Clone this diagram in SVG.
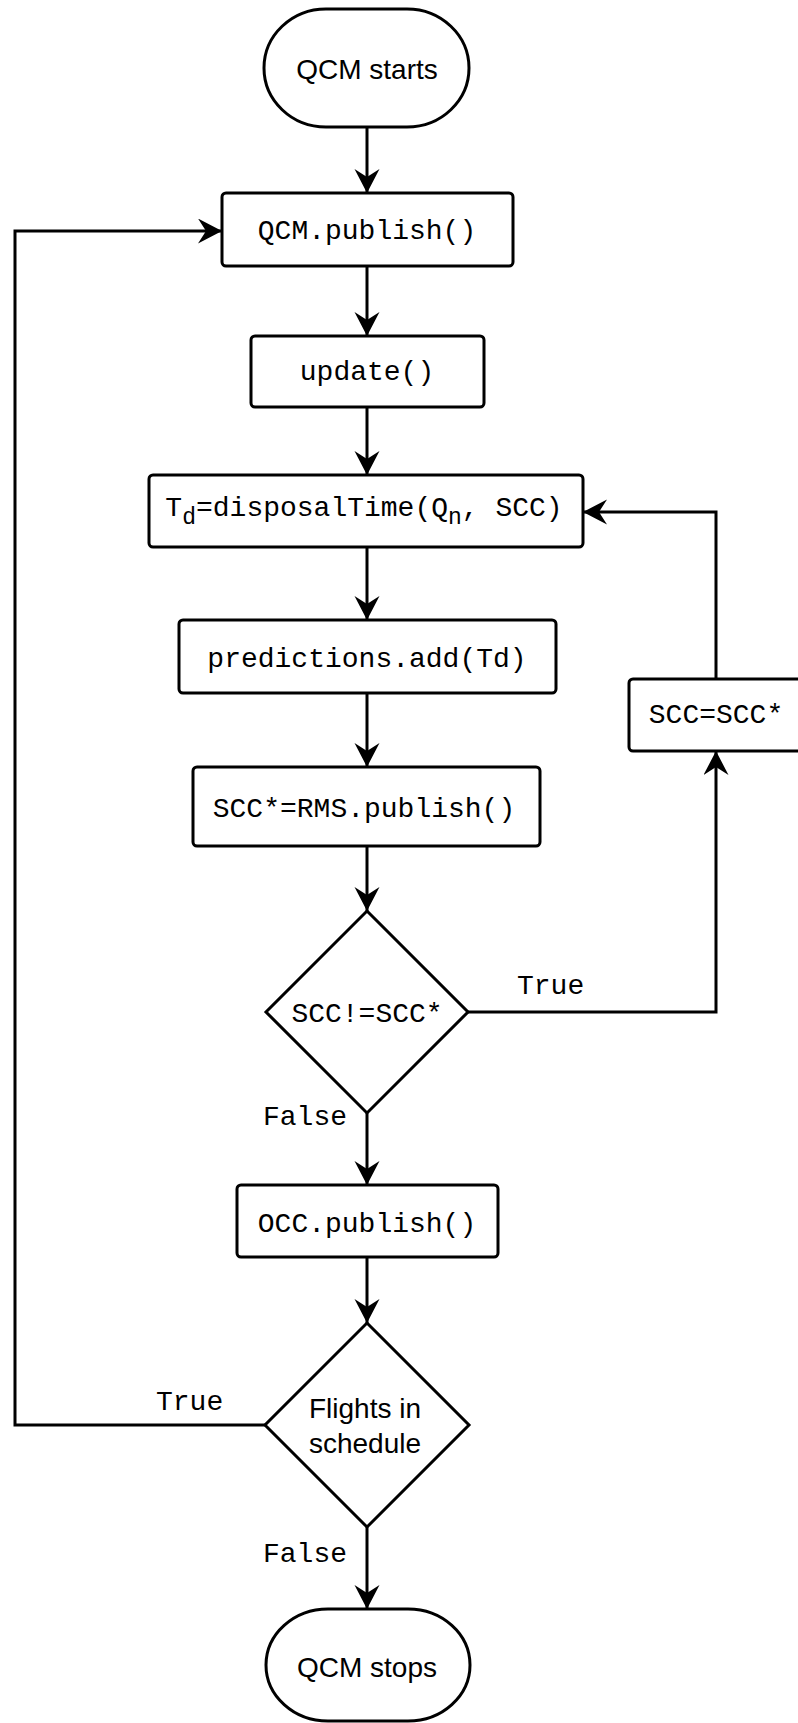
<svg xmlns="http://www.w3.org/2000/svg" width="798" height="1723" viewBox="0 0 798 1723">
  <style>
    .shape { fill: #ffffff; stroke: #000000; stroke-width: 3; }
    .edge { fill: none; stroke: #000000; stroke-width: 3; stroke-linejoin: miter; }
    .mono { font-family: "Liberation Mono", "Courier New", monospace; font-size: 28px; fill: #000000; }
    .sans { font-family: "Liberation Sans", Arial, Helvetica, sans-serif; font-size: 28px; fill: #000000; }
    .mid { text-anchor: middle; }
  </style>
  <defs>
    <marker id="arrow" markerUnits="userSpaceOnUse" markerWidth="26" markerHeight="26" refX="24" refY="12.5" orient="auto">
      <path d="M0,0 L24,12.5 L0,25 L8,12.5 Z" fill="#000000"/>
    </marker>
  </defs>

  <rect width="798" height="1723" fill="#ffffff"/>

  <!-- connectors -->
  <g id="connectors">
    <path class="edge" d="M367,127 L367,193" marker-end="url(#arrow)"/>
    <path class="edge" d="M367,266 L367,336" marker-end="url(#arrow)"/>
    <path class="edge" d="M367,407 L367,475" marker-end="url(#arrow)"/>
    <path class="edge" d="M367,547 L367,620" marker-end="url(#arrow)"/>
    <path class="edge" d="M367,693 L367,767" marker-end="url(#arrow)"/>
    <path class="edge" d="M367,846 L367,911" marker-end="url(#arrow)"/>
    <path class="edge" d="M367,1113 L367,1185" marker-end="url(#arrow)"/>
    <path class="edge" d="M468,1012 L716,1012 L716,751" marker-end="url(#arrow)"/>
    <path class="edge" d="M716,679 L716,512 L583,512" marker-end="url(#arrow)"/>
    <path class="edge" d="M367,1257 L367,1323" marker-end="url(#arrow)"/>
    <path class="edge" d="M266,1425 L15,1425 L15,231 L222,231" marker-end="url(#arrow)"/>
    <path class="edge" d="M367,1527 L367,1609" marker-end="url(#arrow)"/>
    <text class="mono" x="517" y="994">True</text>
    <text class="mono" x="263" y="1125">False</text>
    <text class="mono" x="156" y="1410">True</text>
    <text class="mono" x="263" y="1562">False</text>
  </g>

  <g id="start">
    <rect class="shape" x="264" y="9" width="205" height="118" rx="62" ry="59"/>
    <text class="sans mid" x="367" y="79">QCM starts</text>
  </g>

  <g id="qcm-publish">
    <rect class="shape" x="222" y="193" width="291" height="73" rx="4"/>
    <text class="mono mid" x="367" y="239">QCM.publish()</text>
  </g>

  <g id="update">
    <rect class="shape" x="251" y="336" width="233" height="71" rx="4"/>
    <text class="mono mid" x="367" y="380">update()</text>
  </g>

  <g id="disposal-time">
    <rect class="shape" x="149" y="475" width="434" height="72" rx="4"/>
    <text class="mono mid" x="364" y="516">T<tspan font-size="23" dy="8">d</tspan><tspan dy="-8">=disposalTime(Q</tspan><tspan font-size="23" dy="8">n</tspan><tspan dy="-8">, SCC)</tspan></text>
  </g>

  <g id="predictions-add">
    <rect class="shape" x="179" y="620" width="377" height="73" rx="4"/>
    <text class="mono mid" x="367" y="667">predictions.add(Td)</text>
  </g>

  <g id="rms-publish">
    <rect class="shape" x="193" y="767" width="347" height="79" rx="4"/>
    <text class="mono mid" x="364" y="817">SCC*=RMS.publish()</text>
  </g>

  <g id="scc-changed">
    <path class="shape" d="M367,911 L468,1012 L367,1113 L266,1012 Z"/>
    <text class="mono mid" x="367" y="1022">SCC!=SCC*</text>
  </g>

  <g id="scc-update">
    <rect class="shape" x="629" y="679" width="174" height="72" rx="4"/>
    <text class="mono mid" x="716" y="723">SCC=SCC*</text>
  </g>

  <g id="occ-publish">
    <rect class="shape" x="237" y="1185" width="261" height="72" rx="4"/>
    <text class="mono mid" x="367" y="1232">OCC.publish()</text>
  </g>

  <g id="flights-in-schedule">
    <path class="shape" d="M367,1323 L469,1425 L367,1527 L265,1425 Z"/>
    <text class="sans mid" x="365" y="1418">Flights in</text>
    <text class="sans mid" x="365" y="1453">schedule</text>
  </g>

  <g id="stop">
    <rect class="shape" x="266" y="1609" width="204" height="112" rx="62" ry="56"/>
    <text class="sans mid" x="367" y="1677">QCM stops</text>
  </g>
</svg>
